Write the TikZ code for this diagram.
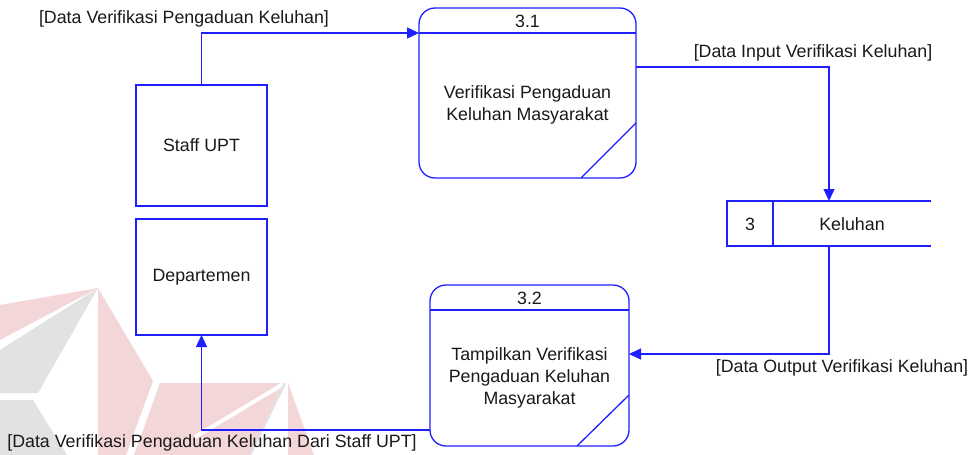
\documentclass[tikz,border=0pt]{standalone}
\usepackage{fontspec}
\setmainfont{Liberation Sans}
\usetikzlibrary{arrows.meta}
\definecolor{dfdblue}{RGB}{30,30,255}
\definecolor{wmred}{RGB}{243,214,216}
\definecolor{wmgray}{RGB}{226,226,226}
\definecolor{txt}{RGB}{25,25,25}
\begin{document}
\begin{tikzpicture}[x=1pt,y=-1pt,
  every node/.style={font=\fontsize{17.8}{22}\selectfont, text=txt},
  entity/.style={draw=dfdblue, line width=1.3pt, minimum width=131pt, inner sep=0pt, outer sep=0pt},
  proc/.style={draw=dfdblue, line width=1.3pt, rounded corners=16pt, inner sep=0pt, outer sep=0pt},
  edge/.style={draw=dfdblue, line width=1.3pt},
  flow/.style={edge, -{Triangle[length=12pt,width=11pt]}},
  body/.style={align=center},
  lbl/.style={inner sep=0pt}]
\useasboundingbox (0,0) rectangle (969,455);

% faint logo in the background
\fill[wmred] (0,305) -- (98,288) -- (0,340) -- cycle;
\fill[wmgray] (0,350) -- (98,288) -- (38,393) -- (0,393) -- cycle;
\fill[wmgray] (0,400) -- (33,400) -- (67,455) -- (0,455) -- cycle;
\fill[wmred] (98,288) -- (153,381) -- (126,455) -- (98,455) -- cycle;
\fill[wmred] (160,383) -- (285,383) -- (250,455) -- (134,455) -- cycle;
\draw[white, line width=4pt] (285,383) -- (195,437);
\draw[wmgray, line width=2.5pt] (285,383) -- (250,455);
\fill[wmred] (288,383) -- (314,455) -- (288,455) -- cycle;

% external entities
\node[entity, minimum height=121pt] (staff) at (201.5,145.5) {Staff UPT};
\node[entity, minimum height=116pt] (dept) at (201.5,277) {Departemen};

% process 3.1
\node[proc, minimum width=217pt, minimum height=170pt] (p31) at (527.5,93) {};
\draw[edge] ([yshift=-25pt]p31.north west) -- ([yshift=-25pt]p31.north east);
\draw[edge] ([yshift=55pt]p31.south east) -- ([xshift=-55pt]p31.south east);
\node[lbl] (n31) at ([yshift=-13pt]p31.north) {3.1};
\node[body] (t31) at (527.5,105) {Verifikasi Pengaduan\\Keluhan Masyarakat};

% process 3.2
\node[proc, minimum width=199pt, minimum height=161pt] (p32) at (529.5,365.5) {};
\draw[edge] ([yshift=-25pt]p32.north west) -- ([yshift=-25pt]p32.north east);
\draw[edge] ([yshift=51pt]p32.south east) -- ([xshift=-52pt]p32.south east);
\node[lbl] (n32) at ([yshift=-13pt]p32.north) {3.2};
\node[body] (t32) at (529.5,378) {Tampilkan Verifikasi\\Pengaduan Keluhan\\Masyarakat};

% data store
\node[minimum width=204pt, minimum height=45pt, inner sep=0pt, outer sep=0pt] (store) at (829,223.5) {};
\draw[edge] (store.north east) -- (store.north west) -- (store.south west) -- (store.south east);
\draw[edge] ([xshift=46pt]store.north west) -- ([xshift=46pt]store.south west);
\node (sid) at (750,224) {3};
\node (sname) at (852,224) {Keluhan};

% data flows
\draw[flow] (staff.north) |- ([yshift=-25pt]p31.north west);
\draw[flow] ([yshift=-59pt]p31.north east) -| (store.north);
\draw[flow] (store.south) |- ([yshift=11.5pt]p32.east);
\draw[flow] ([yshift=-64.5pt]p32.west) -| (dept.south);

% flow labels
\node[lbl] (l1) at (184,19) {[Data Verifikasi Pengaduan Keluhan]};
\node[lbl] (l2) at (813,53) {[Data Input Verifikasi Keluhan]};
\node[lbl] (l3) at (842,368) {[Data Output Verifikasi Keluhan]};
\node[lbl] (l4) at (212,443) {[Data Verifikasi Pengaduan Keluhan Dari Staff UPT]};
\end{tikzpicture}
\end{document}
